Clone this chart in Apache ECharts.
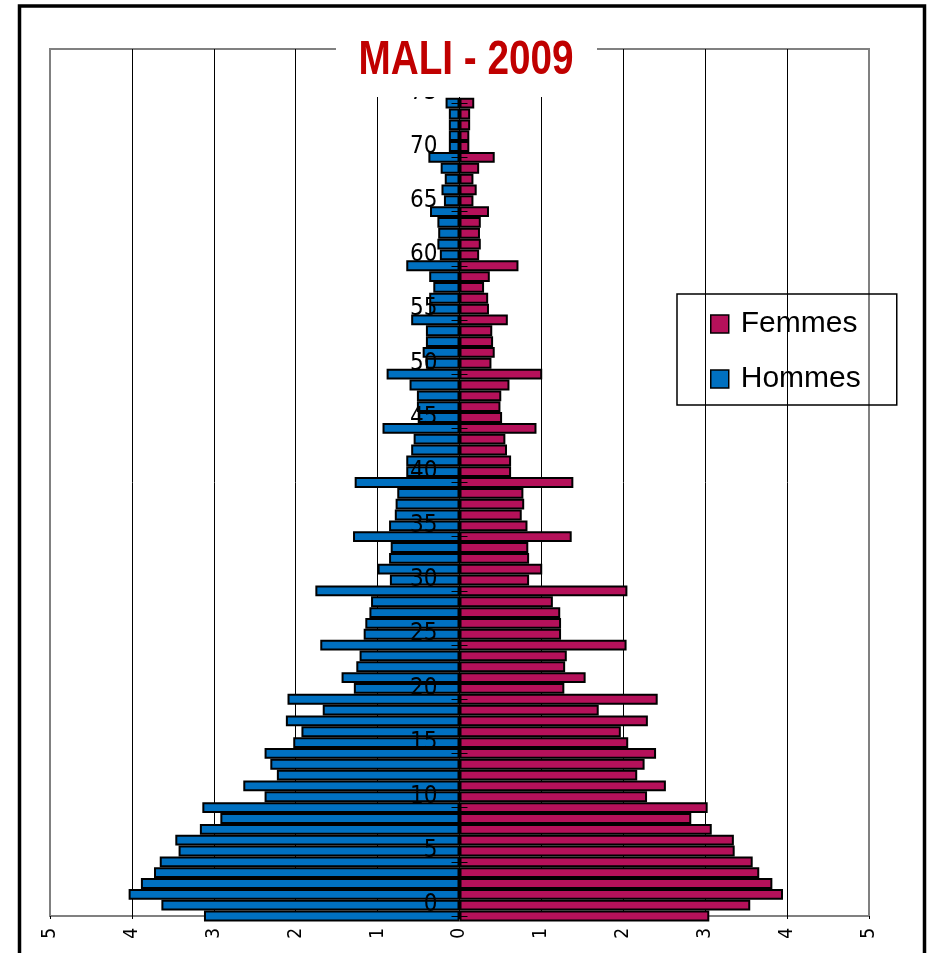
<!DOCTYPE html>
<html>
<head>
<meta charset="utf-8">
<title>MALI - 2009</title>
<script src="https://cdn.jsdelivr.net/npm/echarts@6/dist/echarts.min.js"></script>
<style>
  html, body { margin: 0; padding: 0; background: #fff; }
  #pyramide { width: 932px; height: 953px; }
</style>
</head>
<body>
<div id="pyramide"></div>
<script>
// axe des âges : de 0 à 80 ans (les barres s'arrêtent à 75 ans)
const ages = [0, 1, 2, 3, 4, 5, 6, 7, 8, 9, 10, 11, 12, 13, 14, 15, 16, 17, 18, 19,
  20, 21, 22, 23, 24, 25, 26, 27, 28, 29, 30, 31, 32, 33, 34, 35, 36, 37, 38, 39,
  40, 41, 42, 43, 44, 45, 46, 47, 48, 49, 50, 51, 52, 53, 54, 55, 56, 57, 58, 59,
  60, 61, 62, 63, 64, 65, 66, 67, 68, 69, 70, 71, 72, 73, 74, 75, 76, 77, 78, 79, 80];

// % de la population, âge 0 -> 75
const hommes = [3.12, 3.64, 4.04, 3.89, 3.73, 3.66, 3.43, 3.47, 3.17, 2.92,
  3.14, 2.38, 2.64, 2.23, 2.31, 2.38, 2.03, 1.93, 2.12, 1.67,
  2.10, 1.29, 1.44, 1.26, 1.22, 1.70, 1.17, 1.15, 1.10, 1.08,
  1.76, 0.85, 1.00, 0.86, 0.84, 1.30, 0.86, 0.79, 0.78, 0.76,
  1.28, 0.65, 0.65, 0.59, 0.56, 0.94, 0.51, 0.52, 0.52, 0.61,
  0.89, 0.41, 0.45, 0.41, 0.41, 0.59, 0.37, 0.37, 0.32, 0.37,
  0.65, 0.24, 0.27, 0.26, 0.27, 0.36, 0.19, 0.22, 0.18, 0.23,
  0.38, 0.13, 0.13, 0.13, 0.13, 0.17];

const femmes = [3.05, 3.55, 3.95, 3.82, 3.66, 3.58, 3.36, 3.35, 3.08, 2.83,
  3.03, 2.29, 2.52, 2.17, 2.26, 2.40, 2.06, 1.97, 2.30, 1.70,
  2.42, 1.28, 1.54, 1.29, 1.31, 2.04, 1.24, 1.24, 1.23, 1.14,
  2.05, 0.85, 1.01, 0.85, 0.84, 1.37, 0.83, 0.76, 0.79, 0.78,
  1.39, 0.63, 0.63, 0.58, 0.56, 0.94, 0.52, 0.50, 0.51, 0.61,
  1.01, 0.39, 0.43, 0.41, 0.40, 0.59, 0.36, 0.35, 0.30, 0.37,
  0.72, 0.24, 0.26, 0.25, 0.26, 0.36, 0.17, 0.21, 0.17, 0.24,
  0.43, 0.12, 0.12, 0.13, 0.13, 0.18];

// graduations de l'axe des âges (étiquettes décalées d'un an vers le haut, comme dans l'original)
const pasAges = 5;
const dernierAge = 75;

const narrow = "'Liberation Sans Narrow', 'Arial Narrow', 'DejaVu Sans Condensed', sans-serif";
const regular = "'Liberation Sans', Arial, sans-serif";

const chart = echarts.init(document.getElementById('pyramide'));

const axeAges = {
  type: 'category',
  data: ages,
  boundaryGap: false,
  position: 'left',
  z: 5,
  axisLine: { show: true, onZero: false, lineStyle: { color: '#000', width: 1 } },
  splitLine: { show: false }
};

const option = {
  animation: false,
  backgroundColor: '#fff',
  legend: {
    data: ['Femmes', 'Hommes'],
    orient: 'vertical',
    left: 677,
    top: 294,
    padding: [15, 36, 11, 33],
    itemGap: 25,
    itemWidth: 18,
    itemHeight: 18,
    icon: 'rect',
    borderColor: '#000',
    borderWidth: 1.5,
    itemStyle: { borderColor: '#000', borderWidth: 1.5 },
    textStyle: { fontSize: 30, fontFamily: regular, color: '#000', padding: [0, 0, 0, 7] }
  },
  grid: {
    left: 50, right: 63, top: 49, bottom: 37,
    show: true, borderColor: '#808080', borderWidth: 2,
    containLabel: false, outerBoundsMode: 'none'
  },
  xAxis: {
    type: 'value',
    min: -5, max: 5, interval: 1,
    axisLine: { onZero: false, lineStyle: { color: '#808080', width: 2 } },
    axisTick: { show: true, length: 3, lineStyle: { color: '#000' } },
    axisLabel: {
      rotate: 90, margin: 12, fontSize: 19, fontFamily: narrow, color: '#000',
      formatter: v => String(Math.abs(v))
    },
    splitLine: { show: true, showMinLine: false, showMaxLine: false, lineStyle: { color: '#000', width: 1 } }
  },
  yAxis: [
    Object.assign({}, axeAges, {
      axisTick: {
        show: true, length: 8, lineStyle: { color: '#000' },
        interval: i => i % pasAges === 0 && i <= dernierAge
      },
      axisLabel: {
        margin: 22, fontSize: 24, fontFamily: narrow, color: '#000',
        interval: i => i >= 1 && (i - 1) % pasAges === 0 && i - 1 <= dernierAge,
        formatter: (v, i) => String(ages[i - 1])
      }
    }),
    Object.assign({}, axeAges, {
      axisLine: { show: false, onZero: false },
      axisTick: {
        show: true, inside: true, length: 8, lineStyle: { color: '#000' },
        interval: i => i % pasAges === 0 && i <= dernierAge
      },
      axisLabel: { show: false }
    })
  ],
  series: [
    {
      name: 'Hommes',
      type: 'bar',
      barGap: '-100%',
      barCategoryGap: '0%',
      data: hommes.map(v => -v),
      itemStyle: { color: '#0070C0', borderColor: '#000', borderWidth: 2 }
    },
    {
      name: 'Femmes',
      type: 'bar',
      barGap: '-100%',
      barCategoryGap: '0%',
      data: femmes,
      itemStyle: { color: '#B5115A', borderColor: '#000', borderWidth: 2 }
    }
  ],
  graphic: [
    // cadre noir autour du graphique
    {
      type: 'rect',
      x: 19.5, y: 6,
      shape: { x: 0, y: 0, width: 905, height: 990 },
      style: { fill: 'none', stroke: '#000', lineWidth: 3.5 },
      silent: true,
      z: 100
    },
    // fond blanc du titre (masque le haut du cadre gris)
    {
      type: 'rect',
      x: 336, y: 20,
      shape: { x: 0, y: 0, width: 261, height: 77 },
      style: { fill: '#fff' },
      silent: true,
      z: 50
    },
    // titre en police étroite (Arial Narrow n'existe pas ici : Liberation Sans compressée)
    {
      type: 'text',
      x: 466, y: 60,
      scaleX: 0.79,
      style: {
        text: 'MALI - 2009',
        font: "bold 49px 'Liberation Sans', Arial, sans-serif",
        fill: '#C00000',
        align: 'center',
        verticalAlign: 'middle'
      },
      silent: true,
      z: 51
    }
  ]
};

chart.setOption(option);

// l'axe des âges passe par 0 : on le décale depuis le bord gauche de la grille
const xZero = chart.convertToPixel({ xAxisIndex: 0 }, 0);
const xMin = chart.convertToPixel({ xAxisIndex: 0 }, -5);
chart.setOption({ yAxis: [{ offset: xMin - xZero }, { offset: xMin - xZero }] });
</script>
</body>
</html>
